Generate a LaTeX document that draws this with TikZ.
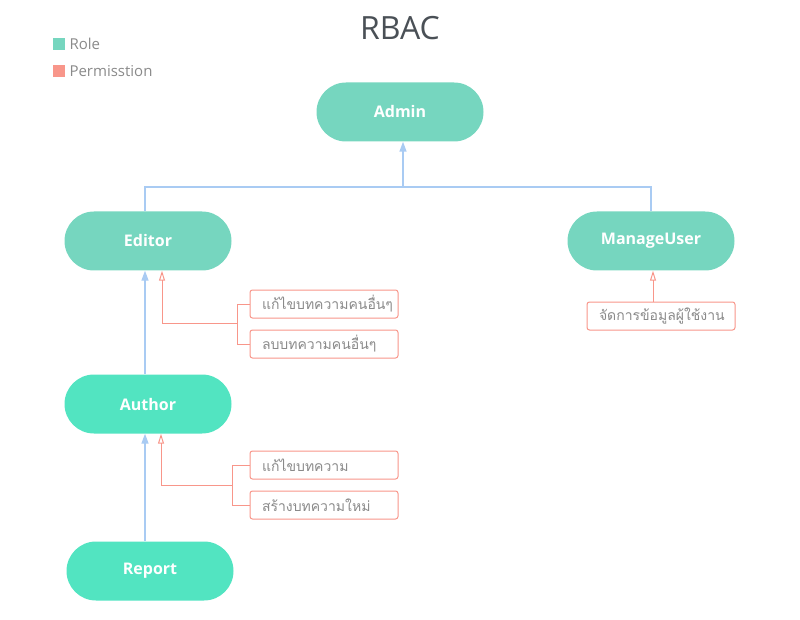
\documentclass[tikz,border=0pt]{standalone}
\usepackage{fontspec}
\setmainfont{Open Sans}
\newfontfamily\thaifont[Script=Thai]{Loma}
\usepackage{xcolor}
\definecolor{roleTeal}{HTML}{76D6BF}
\definecolor{roleMint}{HTML}{52E4C1}
\definecolor{permSalmon}{HTML}{F8968A}
\definecolor{linkBlue}{HTML}{A9CBF3}
\definecolor{textGray}{HTML}{8A8A8A}
\definecolor{titleGray}{HTML}{4A5056}
\usetikzlibrary{arrows.meta, positioning, calc}

\begin{document}
\begin{tikzpicture}[
        x=1pt, y=-1pt,
        roleNode/.style={
            fill=roleTeal,
            rounded corners=29.5pt,
            minimum height=59pt,
            minimum width=167pt,
            font=\bfseries\fontsize{16}{19}\selectfont,
            text=white
        },
        leafNode/.style={
            roleNode,
            fill=roleMint
        },
        permNode/.style={
            draw=permSalmon,
            line width=1pt,
            fill=white,
            rounded corners=2.5pt,
            minimum height=28pt,
            text width=124pt,
            inner xsep=12pt,
            align=left,
            font=\thaifont\fontsize{14}{16}\selectfont,
            text=textGray
        },
        legendBox/.style={
            minimum size=12pt,
            inner sep=0pt
        },
        legendText/.style={
            font=\fontsize{15}{18}\selectfont,
            text=textGray,
            anchor=west
        },
        roleLine/.style={
            linkBlue,
            line width=1.4pt
        },
        roleArrow/.style={
            roleLine,
            -{Triangle[length=10pt,width=7pt,fill=linkBlue]}
        },
        permLine/.style={
            permSalmon,
            line width=1pt
        },
        permArrow/.style={
            permLine,
            -{Triangle[open,length=10pt,width=6pt]}
        }
    ]

    % Frame
    \useasboundingbox (0,0) rectangle (800,620);

    % Title and legend
    \node[font=\fontsize{32}{36}\selectfont, text=titleGray] (title) at (400,28) {RBAC};
    \node[legendBox, fill=roleTeal] (keyRole) at (59,44) {};
    \node[legendText] (keyRoleText) at (66,44) {Role};
    \node[legendBox, fill=permSalmon] (keyPerm) at (59,71) {};
    \node[legendText] (keyPermText) at (66,71) {Permisstion};

    % Roles
    \node[roleNode] (admin) at (400,112) {Admin};
    \node[roleNode] (editor) at (148,241) {Editor};
    \node[roleNode] (manage) at (651,241) {ManageUser};
    \node[leafNode] (author) at (148,404) {Author};
    \node[leafNode] (report) at (150,571) {Report};

    % Permissions
    \node[permNode] (editOther) at (324,304) {แก้ไขบทความคนอื่นๆ};
    \node[permNode] (delOther) at (324,344) {ลบบทความคนอื่นๆ};
    \node[permNode] (editOwn) at (324,465) {แก้ไขบทความ};
    \node[permNode] (newPost) at (324,505) {สร้างบทความใหม่};
    \node[permNode] (userData) at (661,316) {จัดการข้อมูลผู้ใช้งาน};

    % Role hierarchy
    \coordinate (hub) at (403,187);
    \draw[roleLine] ([xshift=-3pt]editor.north) |- (hub) -| (manage.north);
    \draw[roleArrow] (hub) -- (hub |- admin.south);
    \draw[roleArrow] ([xshift=-3pt]author.north) -- ([xshift=-3pt]editor.south);
    \draw[roleArrow] ([xshift=-5pt]report.north) -- ([xshift=-3pt]author.south);

    % Permission links
    \coordinate (editorJoin) at (237,323);
    \draw[permLine] (editOther.west) -- (editOther.west -| editorJoin) |- (delOther.west);
    \draw[permArrow] (editorJoin) -| ([xshift=14pt]editor.south);

    \coordinate (authorJoin) at (232,485);
    \draw[permLine] (editOwn.west) -- (editOwn.west -| authorJoin) |- (newPost.west);
    \draw[permArrow] (authorJoin) -| ([xshift=13pt]author.south);

    \draw[permArrow] ([xshift=-8pt]userData.north) -- ([xshift=2pt]manage.south);

\end{tikzpicture}
\end{document}
